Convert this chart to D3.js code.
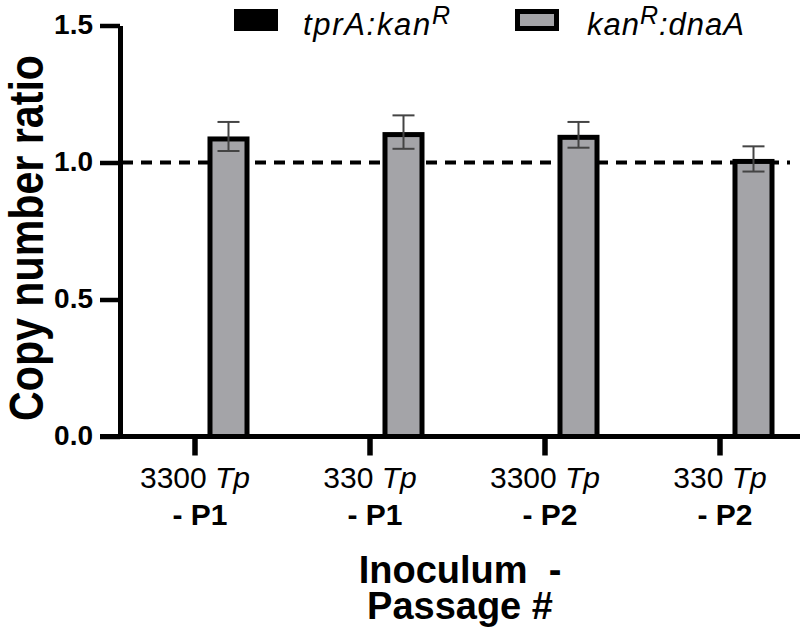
<!DOCTYPE html>
<html>
<head>
<meta charset="utf-8">
<script src="https://cdn.jsdelivr.net/npm/d3@7"></script>
<style>
  body { margin: 0; background: #fff; }
  svg text { font-family: "Liberation Sans", Arial, sans-serif; }
</style>
</head>
<body>
<svg id="chart" width="800" height="637"></svg>
<script>
// DATA
const groups = ["3300|P1", "330|P1", "3300|P2", "330|P2"];
const inoculum = ["3300", "330", "3300", "330"];
const passage = ["P1", "P1", "P2", "P2"];
const series = ["tprA:kanR", "kanR:dnaA"];
const tprAMean = [0, 0, 0, 0];
const tprAErr = [0, 0, 0, 0];
const kanMean = [1.095, 1.111, 1.101, 1.013];
const kanErr = [0.053, 0.061, 0.047, 0.046];
const yTicks = [0.0, 0.5, 1.0, 1.5];
const refLine = 1.0;

// CANVAS SETUP
const svg = d3.select("#chart");
const margin = { top: 25.5, right: 0, bottom: 200.5, left: 120 };
const width = 800 - margin.left - margin.right,
  height = 637 - margin.top - margin.bottom;

const g = svg.append("g").attr("transform", `translate(${margin.left},${margin.top})`);

const y = d3.scaleLinear().domain([0, 1.5]).range([height, 0]);
const x = d3.scaleBand().domain(groups).range([-12.5, 687.5]).padding(0);
const xSub = d3.scaleBand().domain(series).range([-54.5, 54.5]).paddingInner(0.373);

const fills = { "tprA:kanR": "#000", "kanR:dnaA": "#a4a4a8" };
const strokeW = 5;

const rows = [];
groups.forEach((grp, i) => {
  rows.push({ grp, s: series[0], v: tprAMean[i], e: tprAErr[i] });
  rows.push({ grp, s: series[1], v: kanMean[i], e: kanErr[i] });
});
const cx = (d) => x(d.grp) + x.bandwidth() / 2 + xSub(d.s);

// reference line
g.append("line")
  .attr("x1", 2).attr("x2", 670)
  .attr("y1", y(refLine)).attr("y2", y(refLine))
  .attr("stroke", "#000").attr("stroke-width", 4)
  .attr("stroke-dasharray", "11,8");

// bars (stroke drawn inside the bar outline)
g.selectAll("rect.bar")
  .data(rows.filter((d) => d.v > 0))
  .join("rect")
  .attr("class", "bar")
  .attr("x", (d) => cx(d) + strokeW / 2)
  .attr("y", (d) => y(d.v) + strokeW / 2)
  .attr("width", xSub.bandwidth() - strokeW)
  .attr("height", (d) => y(0) - y(d.v) - strokeW / 2)
  .attr("fill", (d) => fills[d.s])
  .attr("stroke", "#000")
  .attr("stroke-width", strokeW);

// error bars
const eb = g.selectAll("g.err")
  .data(rows.filter((d) => d.e > 0))
  .join("g")
  .attr("class", "err")
  .attr("stroke", "#444")
  .attr("stroke-width", 2);
const mid = (d) => cx(d) + xSub.bandwidth() / 2;
eb.append("line")
  .attr("x1", mid).attr("x2", mid)
  .attr("y1", (d) => y(d.v + d.e)).attr("y2", (d) => y(d.v - d.e));
[1, -1].forEach((sgn) => {
  eb.append("line")
    .attr("x1", (d) => mid(d) - 11).attr("x2", (d) => mid(d) + 11)
    .attr("y1", (d) => y(d.v + sgn * d.e)).attr("y2", (d) => y(d.v + sgn * d.e));
});

// Y AXIS
const yAxis = g.append("g")
  .call(d3.axisLeft(y).tickValues(yTicks).tickFormat(d3.format(".1f"))
    .tickSize(20).tickSizeOuter(0).tickPadding(7));
yAxis.select(".domain").attr("stroke-width", strokeW);
yAxis.selectAll(".tick line").attr("stroke-width", 4.5);
yAxis.selectAll(".tick text")
  .attr("font-size", 28).attr("font-weight", "bold")
  .attr("fill", "#000").attr("dy", "0.29em")
  .style("font-family", '"Liberation Sans", Arial, sans-serif');

// X AXIS
g.append("line")
  .attr("x1", -20).attr("x2", width)
  .attr("y1", y(0)).attr("y2", y(0))
  .attr("stroke", "#000").attr("stroke-width", strokeW);

const xt = g.selectAll("g.xtick")
  .data(groups)
  .join("g")
  .attr("class", "xtick")
  .attr("transform", (d) => `translate(${x(d) + x.bandwidth() / 2},${y(0)})`);
xt.append("line").attr("y1", 0).attr("y2", 19)
  .attr("stroke", "#000").attr("stroke-width", 5.5);
const l1 = xt.append("text")
  .attr("y", 51).attr("text-anchor", "middle")
  .attr("font-size", 30).attr("fill", "#000");
l1.append("tspan").text((d, i) => inoculum[i] + " ");
l1.append("tspan").attr("font-style", "italic").text("Tp");
xt.append("text")
  .attr("x", 5).attr("y", 88).attr("text-anchor", "middle")
  .attr("font-size", 30).attr("font-weight", "bold").attr("fill", "#000")
  .text((d, i) => "- " + passage[i]);

// axis titles
const xTitle = svg.append("text")
  .attr("x", margin.left + width / 2).attr("text-anchor", "middle")
  .attr("font-size", 38).attr("font-weight", "bold").attr("fill", "#000")
  .style("white-space", "pre");
xTitle.append("tspan").attr("x", margin.left + width / 2).attr("y", 583).text("Inoculum  -");
xTitle.append("tspan").attr("x", margin.left + width / 2).attr("y", 619).text("Passage #");

svg.append("text")
  .attr("transform", "translate(43,238) rotate(-90)")
  .attr("text-anchor", "middle")
  .attr("font-size", 48).attr("font-weight", "bold").attr("fill", "#000")
  .attr("textLength", 366).attr("lengthAdjust", "spacingAndGlyphs")
  .text("Copy number ratio");

// LEGEND
const legendX = [234, 515];
const legendTextX = [303, 587];
const legendTextLen = [147, 157];
const leg = svg.selectAll("g.leg")
  .data(series)
  .join("g")
  .attr("class", "leg");
leg.append("rect")
  .attr("x", (d, i) => legendX[i] + 2.5).attr("y", 11.5)
  .attr("width", 39).attr("height", 17)
  .attr("fill", (d) => fills[d]).attr("stroke", "#000").attr("stroke-width", strokeW);

const lt = leg.append("text")
  .attr("x", (d, i) => legendTextX[i]).attr("y", 35)
  .attr("font-size", 31).attr("font-style", "italic").attr("fill", "#000")
  .attr("textLength", (d, i) => legendTextLen[i])
  .attr("lengthAdjust", "spacing");
// tprA:kanR
d3.select(lt.nodes()[0]).call((t) => {
  t.append("tspan").text("tprA:kan");
  t.append("tspan").attr("font-size", 25).attr("dy", -11).text("R");
});
// kanR:dnaA
d3.select(lt.nodes()[1]).call((t) => {
  t.append("tspan").text("kan");
  t.append("tspan").attr("font-size", 25).attr("dy", -11).text("R");
  t.append("tspan").attr("dy", 11).text(":dnaA");
});
</script>
</body>
</html>
